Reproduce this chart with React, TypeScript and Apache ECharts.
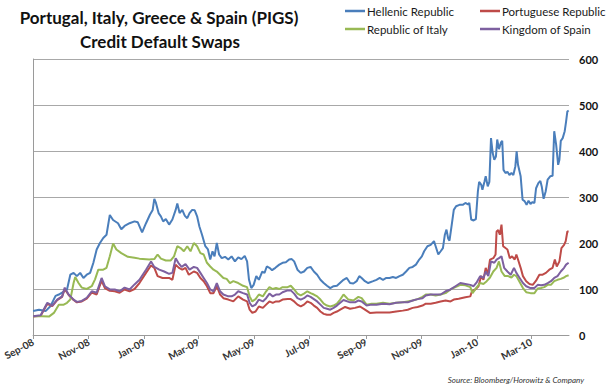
import React, { useEffect, useRef } from "react";
import * as echarts from "echarts";

// x positions are day offsets from 1 Sep 2008
const tickDays = [0, 61, 122, 181, 242, 303, 365, 426, 487, 546];
const tickLabels = ["Sep-08", "Nov-08", "Jan-09", "Mar-09", "May-09", "Jul-09", "Sep-09", "Nov-09", "Jan-10", "Mar-10"];
const yTicks = [0, 100, 200, 300, 400, 500, 600];

const greeceDays = [0,6.5,13.7,19.2,24.6,28.2,31.8,37.2,40.8,44.4,48,51.6,55.2,58.8,62.5,66.1,69.7,73.3,76.9,80.5,84.1,87.7,93.1,96.7,100.3,105.8,111.2,
114.8,119.5,123.8,128.2,131.1,132.9,134.7,137.6,140.1,142.6,145.5,149.1,152.7,156.3,158.1,160.6,163.5,166.4,169,171.5,174.4,177.2,179.8,182.3,185.2,188.8,191.7,194.2,196.7,198.9,201.4,203.9,206.8,210.4,214,217.6,221.3,224.9,
228.4,232,234.6,236.7,239.2,241.8,244.7,247.5,251.2,253.7,256.2,259.1,262,265.6,269.9,273.5,277.1,280.7,283.6,286.2,289.8,293.4,297,300.6,304.2,307.8,311.4,315,318.6,322.2,325.8,329.4,333.1,
340.3,343.9,347.5,351.1,354.7,357.6,360.2,363.8,367.4,372.8,376.4,380,383.6,387.2,390.8,394.4,398,401.7,405.3,408.9,412.5,416.1,419.7,423.3,426.2,428.7,432.3,435.9,439.5,441.3,444.2,446.8,449.3,451.4,453.2,
455,456.5,458.7,461.2,463.7,467.4,471,473.9,476.7,478.2,480.3,482.9,485.4,487.6,489,491.2,492.6,494.8,496.2,498.4,500.2,502,503.8,505.6,507.4,508.8,510.7,512.8,514.3,515.7,517.9,520,522.2,524.4,526.5,528.7,530.1,531.6,534.5,536.6,538.8,541,543.1,545.3,547.5,549.6,551.4,553.9,556.1,557.6,559.7,561.9,564.1,566.9,569.5,571.3,573.4,575.6,577,578.5,580.6,582.8,584.3,585.7,587.1];
const greeceCds = [52,55,52,63,85,88,92,99,131,135,128,135,124,131,135,157,186,200,211,218,261,250,243,230,237,243,247,
245,223,243,262,272,296,287,265,258,247,252,240,251,272,286,265,272,259,254,265,272,271,258,236,218,193,186,164,182,171,200,175,167,170,164,171,160,169,
165,172,160,120,102,109,128,120,138,135,149,146,141,146,153,157,158,164,165,160,142,135,138,146,148,138,131,120,113,107,102,106,107,
120,124,113,112,117,128,124,117,113,117,120,124,120,124,124,126,124,128,131,138,146,148,153,164,171,182,193,196,204,193,175,182,189,218,229,
210,205,236,272,280,283,283,287,284,287,251,249,252,312,333,327,316,333,345,323,333,428,396,381,388,425,404,418,422,359,352,355,348,352,348,367,399,370,345,294,291,283,292,285,289,287,319,330,335,323,296,312,338,345,346,443,414,370,381,422,428,443,464,486,488];

const portugalDays = [0,8.3,15.6,21,26.4,31.8,34.7,39,44.4,48,53.4,58.8,64.3,69.7,75.1,78.7,84.1,89.5,94.9,100.3,105.8,111.2,
116.6,123.8,129.3,132.9,136.5,141.9,149.1,152.7,156.3,159.9,163.5,167.1,170.7,176.2,179.8,183.4,187,190.6,194.2,197.8,201.4,205,208.6,214,219.5,224.9,
230.2,234.6,237.4,240.3,243.9,247.5,251.9,255.5,259.1,262.7,266.3,269.9,273.5,279,282.5,286.2,289.8,293.4,297,300.6,304.2,307.8,311.4,315,318.6,322.2,325.8,329.4,333.1,336.7,
342.1,347.5,352.9,358.4,363.8,369.2,376.4,383.6,390.8,398,405.3,410.7,416.1,421.5,426.9,430.5,435.9,441.3,446.8,452.2,
457.6,461.2,466.6,473.9,479.3,481.1,484.7,488.3,491.2,493.7,496.2,498.4,500.9,504.5,507,508.1,509.9,511.7,513.5,515.3,517.9,520,522.6,525.1,528,529.8,531.6,534.5,537,540.6,544.2,547.8,551.4,555,558.6,562.2,565.9,569.5,572,574.1,577,579.2,582.1,583.9,585.7,587.1];
const portugalCds = [40,42,68,63,76,83,100,87,76,71,73,79,92,88,118,102,96,95,92,99,95,100,
113,135,151,146,128,124,124,120,153,146,142,146,131,138,135,124,117,106,91,91,106,88,80,77,73,84,
77,73,55,48,51,62,59,66,73,70,73,73,77,78,78,73,66,62,66,73,70,64,59,51,46,44,44,48,51,55,
61,57,59,62,55,48,49,49,49,51,53,55,59,61,64,68,68,70,73,75,
73,77,79,82,84,95,99,106,128,120,146,131,164,167,175,225,228,218,240,193,189,186,167,171,164,175,164,146,128,117,111,109,118,131,131,135,142,146,164,149,160,189,196,204,225,225];

const italyDays = [0,10.1,17.4,22.8,28.2,33.6,37.2,40.8,44.4,46.2,49.8,53.4,58.8,64.3,67.9,71.5,76.9,80.5,84.1,87.7,91.3,96.7,103.9,111.2,
116.6,127.4,132.9,136.5,140.1,145.5,150.9,154.5,158.1,161.7,165.3,169,172.6,176.2,179.8,183.4,187,190.6,194.2,197.8,201.4,205,208.6,212.2,215.8,219.5,224.9,
230.2,234.6,237.4,240.3,243.9,247.5,251.9,255.5,259.1,262.7,266.3,269.9,273.5,279,282.5,286.2,289.8,293.4,297,300.6,304.2,307.8,311.4,315,318.6,322.2,325.8,329.4,333.1,336.7,
340.3,345.7,351.1,356.6,360.2,365.6,371,376.4,383.6,390.8,398,405.3,410.7,416.1,421.5,426.9,430.5,435.9,441.3,446.8,452.2,
457.6,463,468.4,473.9,479.3,481.8,486.5,490.1,493.7,497.3,500.9,504.5,508.1,510.7,513.5,517.1,520.8,524.4,527.2,529.8,533.4,537,540.6,545.3,549.6,553.2,556.8,560.4,564.1,567.7,571.3,574.9,578.5,582.1,584.3,587.1];
const italyCds = [41,41,40,48,66,66,70,77,113,126,113,103,100,106,121,142,142,146,171,199,186,178,170,168,
166,164,165,175,166,162,162,171,193,189,182,193,182,200,193,178,175,157,149,142,138,131,124,122,113,117,113,
107,104,84,73,78,88,84,95,104,100,102,100,104,104,107,99,90,86,90,95,91,88,84,77,68,64,62,64,68,77,
88,77,75,83,80,66,68,68,70,68,70,71,73,75,78,83,88,88,86,88,91,
99,104,109,108,104,91,104,113,111,117,125,138,146,160,138,128,128,125,131,128,115,102,93,91,91,101,102,104,109,109,117,120,122,125,128,130];

const spainDays = [0,8.3,15.6,21,26.4,31.8,34.7,39,44.4,48,53.4,58.8,64.3,69.7,75.1,78.7,84.1,89.5,94.9,100.3,105.8,111.2,
116.6,123.8,129.3,132.9,138.3,143.7,149.1,152.7,156.3,159.2,162.8,167.1,171.5,176.2,179.8,183.4,187,190.6,194.2,197.8,201.4,205,208.6,214,217.6,221.3,224.9,
230.2,234.6,237.4,240.3,243.9,247.5,251.9,255.5,259.1,262.7,266.3,269.9,273.5,279,282.5,286.2,289.8,293.4,297,300.6,304.2,307.8,311.4,315,318.6,322.2,325.8,329.4,333.1,336.7,
340.3,347.5,352.9,356.6,360.2,365.6,371,376.4,383.6,390.8,398,405.3,410.7,416.1,421.5,426.9,430.5,435.9,441.3,446.8,452.2,
457.6,463,468.4,473.9,479.3,482.9,486.5,490.1,493.7,496.2,499.1,502,505.6,508.1,510.7,513.5,516.4,520,523.6,527.2,529.8,533.4,537,540.6,545.3,549.6,553.2,556.8,560.4,564.1,567.7,571.3,574.9,578.5,582.1,584.3,587.1];
const spainCds = [41,43,70,64,77,84,103,88,77,72,74,81,95,92,124,106,99,99,95,103,99,110,
120,142,160,148,142,138,133,135,167,157,148,154,142,148,146,135,124,113,99,95,113,95,88,84,84,88,95,
91,88,70,62,66,77,73,80,90,84,88,88,93,97,97,90,80,77,80,86,83,78,73,66,59,57,55,59,64,70,
76,71,71,75,73,64,66,66,68,67,70,71,71,75,78,80,86,88,88,88,95,
99,106,113,111,109,106,115,128,124,138,128,160,157,164,167,171,146,138,131,146,135,124,113,106,102,102,109,108,109,113,117,124,128,138,146,153,157];

const seriesNames = ["Hellenic Republic", "Portuguese Republic", "Republic of Italy", "Kingdom of Spain"];
const seriesColors = ["#4A7EBB", "#BE4B48", "#98B954", "#7D60A0"];

const pairs = (d: number[], v: number[]) => d.map((x, i) => [x, v[i]]);

export default function App() {
  const ref = useRef<HTMLDivElement>(null);
  useEffect(() => {
    document.body.style.margin = "0";
    const chart = echarts.init(ref.current!, null, { renderer: "svg" });
    const dataSets = [
      pairs(greeceDays, greeceCds),
      pairs(portugalDays, portugalCds),
      pairs(italyDays, italyCds),
      pairs(spainDays, spainCds),
    ];
    const legendPos = [
      { left: 345, top: 5 },
      { left: 480, top: 5 },
      { left: 345, top: 23 },
      { left: 480, top: 23 },
    ];
    chart.setOption({
      animation: false,
      backgroundColor: "#ffffff",
      grid: { left: 27, right: 41, top: 59, bottom: 52, containLabel: false },
      legend: seriesNames.map((n, i) => ({
        data: [n],
        left: legendPos[i].left,
        top: legendPos[i].top,
        padding: 0,
        icon: "rect",
        itemWidth: 20,
        itemHeight: 2.5,
        textStyle: { fontFamily: "Lato", fontSize: 11.5, color: "#1a1a1a", padding: [0, 0, 0, -3] },
      })),
      xAxis: {
        type: "value",
        min: 0,
        max: 587.5,
        axisLine: { show: true, onZero: false, lineStyle: { color: "#9a9a9a", width: 1 } },
        axisTick: { show: true, customValues: tickDays, length: 4, lineStyle: { color: "#9a9a9a" } },
        axisLabel: {
          customValues: tickDays,
          formatter: (v: number) => tickLabels[tickDays.indexOf(Math.round(v))] ?? "",
          rotate: 28,
          margin: 6,
          fontFamily: "Lato",
          fontWeight: "bold",
          fontSize: 10,
          color: "#333",
        },
        splitLine: { show: false },
      },
      yAxis: [
        {
          type: "value",
          position: "right",
          min: 0,
          max: 600,
          interval: 100,
          axisLine: { show: false },
          axisTick: { show: false },
          axisLabel: {
            margin: 10,
            fontFamily: "Lato",
            fontWeight: "bold",
            fontSize: 11,
            color: "#111",
            formatter: (v: number) => (yTicks.includes(v) ? String(v) : ""),
          },
          splitLine: { show: true, lineStyle: { color: "#a8a8a8", width: 1 } },
        },
        {
          type: "value",
          position: "left",
          min: 0,
          max: 600,
          interval: 100,
          axisLine: { show: true, lineStyle: { color: "#9a9a9a", width: 1 } },
          axisTick: { show: false },
          axisLabel: { show: false },
          splitLine: { show: false },
        },
      ],
      series: seriesNames.map((n, i) => ({
        name: n,
        type: "line",
        data: dataSets[i],
        showSymbol: false,
        symbol: "none",
        clip: true,
        lineStyle: { width: 2, color: seriesColors[i] },
        itemStyle: { color: seriesColors[i] },
        z: 2 + i,
      })),
      graphic: [
        {
          type: "text",
          x: 159,
          y: 17,
          style: {
            text: "Portugal, Italy, Greece & Spain (PIGS)",
            font: "bold 17px Lato",
            fill: "#111",
            align: "center",
            verticalAlign: "middle",
          },
        },
        {
          type: "text",
          x: 160,
          y: 41,
          style: {
            text: "Credit Default Swaps",
            font: "bold 17px Lato",
            fill: "#111",
            align: "center",
            verticalAlign: "middle",
          },
        },
        {
          type: "text",
          x: 584,
          y: 380,
          style: {
            text: "Source: Bloomberg/Horowitz & Company",
            font: "italic 8px Lato",
            fill: "#333",
            align: "right",
            verticalAlign: "middle",
          },
        },
      ],
    });
    return () => chart.dispose();
  }, []);
  return <div ref={ref} style={{ width: 610, height: 387 }} />;
}
